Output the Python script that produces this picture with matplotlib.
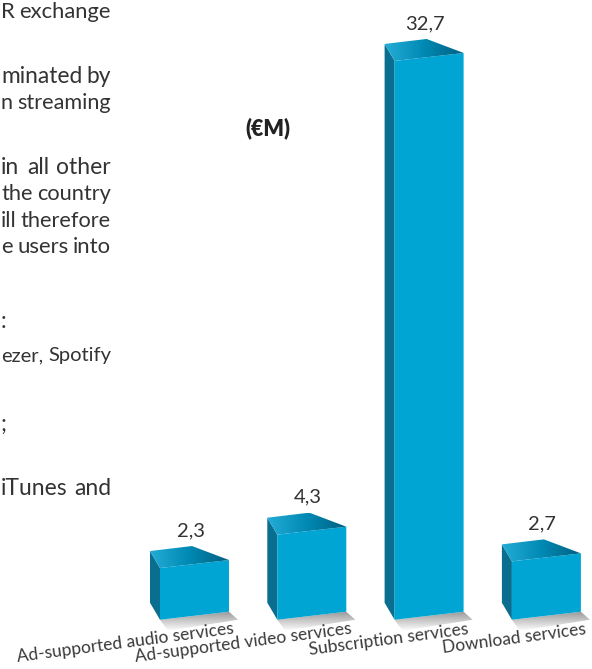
import matplotlib
matplotlib.use("Agg")
import matplotlib.pyplot as plt
import numpy as np
from matplotlib.colors import LinearSegmentedColormap
from matplotlib.patches import Polygon

# chart data
categories = [
    "Ad-supported audio services",
    "Ad-supported video services",
    "Subscription services",
    "Download services",
]
values = [2.3, 4.3, 32.7, 2.7]
value_labels = ["2,3", "4,3", "32,7", "2,7"]
unit_label = "(€M)"

# visible right-hand ends of the neighbouring paragraph (cut off by the crop)
side_text = [
    "R exchange",
    "minated by",
    "n streaming",
    "in all other",
    "the country",
    "ill therefore",
    "e users into",
    ":",
    "ezer, Spotify",
    ";",
    "iTunes and",
]

# layout (pixels)
W, H = 592, 669
SIDE_TEXT_Y = [18, 83, 109, 174, 200, 227, 253, 328, 361, 431, 495]
SIDE_TEXT_RIGHT = 111
SIDE_FONTSIZE = 16.5
FONT = ["Lato", "DejaVu Sans"]
TEXT_COLOR = "#333333"

FRONT = "#00a5d4"
SIDE = "#0a6e90"
TOP_CMAP = LinearSegmentedColormap.from_list("top", ["#23acd6", "#0089b3", "#005f80"])
SHADOW_CMAP = LinearSegmentedColormap.from_list("shadow", ["#ffffff", "#9c9c9c"])

BAR_WIDTH = 69 / 117.3
BASE = -0.8
SLANT = 8          # px the right edge sits higher than the left
DEPTH_L = (-10, 17)
DEPTH_R = (-37, 14)

fig = plt.figure(figsize=(W / 100, H / 100), dpi=100)
ax = fig.add_axes([0, 0, 1, 1])
xlim = (-194.5 / 117.3, (W - 194.5) / 117.3)
ylim = ((606.4 - H) / 16.68, 606.4 / 16.68)
ax.set_xlim(*xlim)
ax.set_ylim(*ylim)
ax.axis("off")


def off(pt, dx, dy):
    d = ax.transData.transform(pt) + np.array([dx, dy])
    return tuple(ax.transData.inverted().transform(d))


def gradient_fill(poly, cmap, horizontal, zorder):
    pts = np.array(poly.get_xy())
    x0, x1 = pts[:, 0].min(), pts[:, 0].max()
    y0, y1 = pts[:, 1].min(), pts[:, 1].max()
    g = np.linspace(0, 1, 256)
    grad = g[None, :] if horizontal else g[:, None]
    im = ax.imshow(grad, extent=[x0, x1, y0, y1], origin="lower", cmap=cmap,
                   aspect="auto", zorder=zorder, interpolation="bilinear")
    im.set_clip_path(poly)


for i, (v, lab) in enumerate(zip(values, value_labels)):
    fl_b = (i - BAR_WIDTH / 2, BASE)
    fr_b = off((i + BAR_WIDTH / 2, BASE), 0, SLANT)
    fl_t = (i - BAR_WIDTH / 2, v)
    fr_t = off((i + BAR_WIDTH / 2, v), 0, SLANT)
    bl_t = off(fl_t, *DEPTH_L)
    br_t = off(fr_t, *DEPTH_R)
    bl_b = off(fl_b, *DEPTH_L)

    # floor shadow
    shadow = Polygon([fl_b, fr_b, off(fr_b, 9, -8), off(fl_b, 8, -11)],
                     closed=True, facecolor="none", edgecolor="none")
    ax.add_patch(shadow)
    gradient_fill(shadow, SHADOW_CMAP, False, 1)

    ax.add_patch(Polygon([bl_b, fl_b, fl_t, bl_t], closed=True,
                         facecolor=SIDE, edgecolor="none", zorder=2))
    ax.add_patch(Polygon([fl_b, fr_b, fr_t, fl_t], closed=True,
                         facecolor=FRONT, edgecolor="none", zorder=2))
    top = Polygon([fl_t, fr_t, br_t, bl_t], closed=True,
                  facecolor="none", edgecolor="none", zorder=2)
    ax.add_patch(top)
    gradient_fill(top, TOP_CMAP, True, 2)

    lx, ly = off((i, v), -4, 32)
    ax.text(lx, ly, lab, ha="center", va="baseline", fontsize=14.5,
            color=TEXT_COLOR, family=FONT, zorder=3)

    tx, ty = off(fr_b, 4, -9)
    ax.text(tx, ty, categories[i], ha="right", va="top", rotation=7.5,
            rotation_mode="anchor", fontsize=12.5, color="#3a3a3a",
            family=FONT, zorder=3)

ax.set_xlim(*xlim)
ax.set_ylim(*ylim)

fig.text(268 / W, 1 - 128 / H, unit_label, ha="center", va="center",
         fontsize=15.5, fontweight="heavy", color="#222222", family=FONT)

# justified paragraph fragments: spread words between x=0 and the right margin
renderer = fig.canvas.get_renderer()
for line, y in zip(side_text, SIDE_TEXT_Y):
    yf = 1 - y / H
    words = line.split(" ")
    if len(line) == 1:
        fig.text(1 / W, yf, line, ha="left", va="baseline",
                 fontsize=SIDE_FONTSIZE, color=TEXT_COLOR, family=FONT)
        continue
    texts = [fig.text(0, yf, w, ha="left", va="baseline", fontsize=SIDE_FONTSIZE,
                      color=TEXT_COLOR, family=FONT) for w in words]
    widths = [t.get_window_extent(renderer).width for t in texts]
    space = 4.5
    avail = SIDE_TEXT_RIGHT - 1
    natural = sum(widths) + space * (len(words) - 1)
    if natural > avail:
        # shrink the line a little so it stays inside the picture
        scale = (avail - space * (len(words) - 1)) / sum(widths)
        for t in texts:
            t.set_fontsize(SIDE_FONTSIZE * scale)
        widths = [w * scale for w in widths]
    gap = (avail - sum(widths)) / max(len(words) - 1, 1)
    x = SIDE_TEXT_RIGHT - sum(widths) - gap * (len(words) - 1)
    for t, w in zip(texts, widths):
        t.set_x(x / W)
        x += w + gap

fig.savefig("out.png", dpi=100)
